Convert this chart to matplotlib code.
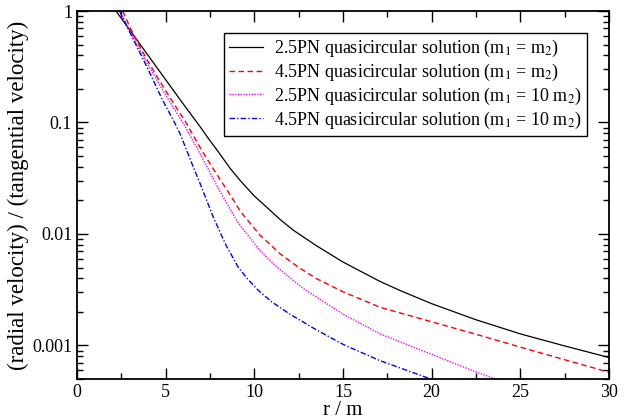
import matplotlib

matplotlib.use("Agg")
import matplotlib.pyplot as plt
from matplotlib.ticker import LogLocator, MultipleLocator, FixedLocator, NullFormatter

plt.rcParams["font.family"] = ["Liberation Serif", "DejaVu Serif"]
plt.rcParams["mathtext.fontset"] = "stix"

# Data (r / m vs ratio of radial to tangential velocity)
r_pn25_eq = [2.2, 3.0, 4.0, 5.0, 6.0, 7.0, 7.41, 8.0, 8.63, 9.19, 10.0, 10.89, 11.45,
             12.2, 13.5, 15.0, 17.09, 18.22, 20.0, 22.5, 25.0, 27.5, 30.0]
v_pn25_eq = [1.0, 0.667, 0.402, 0.242, 0.146, 0.0891, 0.0719, 0.0537, 0.0389, 0.0303,
             0.0219, 0.0163, 0.0135, 0.0108, 0.00785, 0.0056, 0.00375, 0.00311,
             0.00237, 0.0017, 0.00127, 0.00099, 0.00078]

r_pn45_eq = [2.58, 3.0, 3.44, 4.0, 4.5, 5.0, 5.34, 6.09, 7.0, 7.5, 8.0, 8.5, 9.19,
             9.38, 10.32, 11.45, 12.5, 13.5, 15.02, 17.09, 20.0, 22.5, 25.0, 27.5, 30.0]
v_pn45_eq = [1.0, 0.708, 0.513, 0.355, 0.26, 0.193, 0.158, 0.1035, 0.0575, 0.0427,
             0.032, 0.0243, 0.0162, 0.0148, 0.00977, 0.00665, 0.00501, 0.00398,
             0.00302, 0.0022, 0.00163, 0.00126, 0.000966, 0.000745, 0.000575]

r_pn25_q10 = [2.4, 3.16, 4.0, 5.06, 6.0, 6.6, 7.31, 8.0, 8.91, 9.19, 10.32, 10.89,
              11.45, 12.76, 15.0, 17.09, 20.0, 22.54, 23.6]
v_pn25_q10 = [1.0, 0.581, 0.331, 0.17, 0.0977, 0.0661, 0.0407, 0.0251, 0.0141, 0.012,
              0.00708, 0.00575, 0.00479, 0.00324, 0.00191, 0.00127, 0.000832,
              0.000575, 0.0005]

r_pn45_q10 = [2.4, 3.16, 4.0, 4.83, 5.43, 5.81, 6.56, 7.0, 7.69, 8.4, 9.1, 9.6, 10.13,
              10.32, 11.0, 12.0, 13.5, 15.02, 17.09, 19.95]
v_pn45_q10 = [1.0, 0.562, 0.302, 0.158, 0.105, 0.0794, 0.0398, 0.0269, 0.0141,
              0.00794, 0.00501, 0.00398, 0.00324, 0.00302, 0.00245, 0.00191, 0.00138,
              0.00102, 0.00073, 0.0005]

labels = [
    r"2.5PN quasicircular solution (m$_1$ = m$_2$)",
    r"4.5PN quasicircular solution (m$_1$ = m$_2$)",
    r"2.5PN quasicircular solution (m$_1$ = 10 m$_2$)",
    r"4.5PN quasicircular solution (m$_1$ = 10 m$_2$)",
]

fig = plt.figure(figsize=(6.28, 4.2), dpi=100)
ax = fig.add_axes([0.1226, 0.0976, 0.8471, 0.8762])

ax.plot(r_pn25_eq, v_pn25_eq, color="black", lw=0.9, ls="-", label=labels[0])
ax.plot(r_pn45_eq, v_pn45_eq, color="#ff0000", lw=1.0, ls=(0, (4, 2.5)), label=labels[1])
ax.plot(r_pn25_q10, v_pn25_q10, color="#ff00ff", lw=1.0, ls=(0, (1, 1)), label=labels[2])
ax.plot(r_pn45_q10, v_pn45_q10, color="#0000ff", lw=1.0, ls=(0, (4, 1.5, 1, 1.5)),
        label=labels[3])

ax.set_yscale("log")
ax.set_xlim(0, 30)
ax.set_ylim(5e-4, 1)

ax.xaxis.set_major_locator(MultipleLocator(5))
ax.xaxis.set_minor_locator(MultipleLocator(2.5))
ax.yaxis.set_major_locator(FixedLocator([0.001, 0.01, 0.1, 1]))
ax.yaxis.set_minor_locator(LogLocator(base=10, subs=range(2, 10)))
ax.yaxis.set_minor_formatter(NullFormatter())
ax.set_yticklabels(["0.001", "0.01", "0.1", "1"])

ax.tick_params(which="both", direction="in", top=True, right=True, labelsize=13,
               width=1.0)
ax.tick_params(which="major", length=8)
ax.tick_params(which="minor", length=4)
for sp in ax.spines.values():
    sp.set_linewidth(1.3)

ax.set_xlabel("r / m", fontsize=15, labelpad=0)
ax.set_ylabel("(radial velocity) / (tangential velocity)", fontsize=16.5, labelpad=2)

leg = ax.legend(loc="upper right", fontsize=13, frameon=True, fancybox=False,
                edgecolor="black", framealpha=1, handlelength=1.9, handletextpad=0.6,
                borderaxespad=1.2, labelspacing=0.15, borderpad=0.3)
leg.get_frame().set_linewidth(1.0)

fig.savefig("out.png", dpi=100)
